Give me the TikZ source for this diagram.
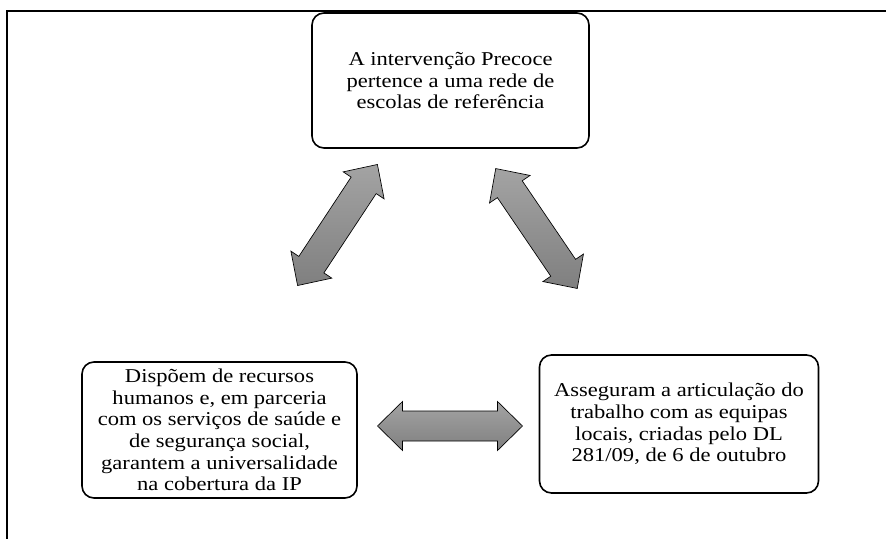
\documentclass[tikz,border=0pt]{standalone}
\usepackage{fontspec}
\setmainfont{Liberation Serif}[FakeStretch=1.15]

\tikzset{
  box/.style={draw=black, fill=white, line width=1.2pt, rounded corners=9pt,
    align=center, inner sep=0pt, font=\fontsize{14.7}{16.2}\selectfont},
  fatarrow/.pic={
    \draw[line width=0.5pt, top color=black!36, bottom color=black!50]
      (-72.5,0) -- (-47.5,24.5) -- (-47.5,15) -- (47.5,15) -- (47.5,24.5)
      -- (72.5,0) -- (47.5,-24.5) -- (47.5,-15) -- (-47.5,-15)
      -- (-47.5,-24.5) -- cycle;
  }
}

\begin{document}
\begin{tikzpicture}[x=0.75pt, y=-0.75pt]
  \useasboundingbox (0,0) rectangle (886,539);

  % frame
  \draw[line width=2pt] (7,539) -- (7,11) -- (886,11);

  % boxes
  \node[box, minimum width=207.75pt, minimum height=101.25pt] (ip) at (450.5,80.5)
    {A intervenção Precoce\\pertence a uma rede de\\escolas de referência};
  \node[box, minimum width=206.25pt, minimum height=102pt] (recursos) at (219.5,430)
    {Dispõem de recursos\\humanos e, em parceria\\com os serviços de saúde e\\de segurança social,\\garantem a universalidade\\na cobertura da IP};
  \node[box, minimum width=209.25pt, minimum height=103.5pt] (equipas) at (679,424)
    {Asseguram a articulação do\\trabalho com as equipas\\locais, criadas pelo DL\\281/09, de 6 de outubro};

  % arrows
  \pic[rotate=56.6] at (337.5,225) {fatarrow};
  \pic[rotate=-55.8] at (536.5,228.5) {fatarrow};
  \pic at (450,426) {fatarrow};

\end{tikzpicture}
\end{document}
